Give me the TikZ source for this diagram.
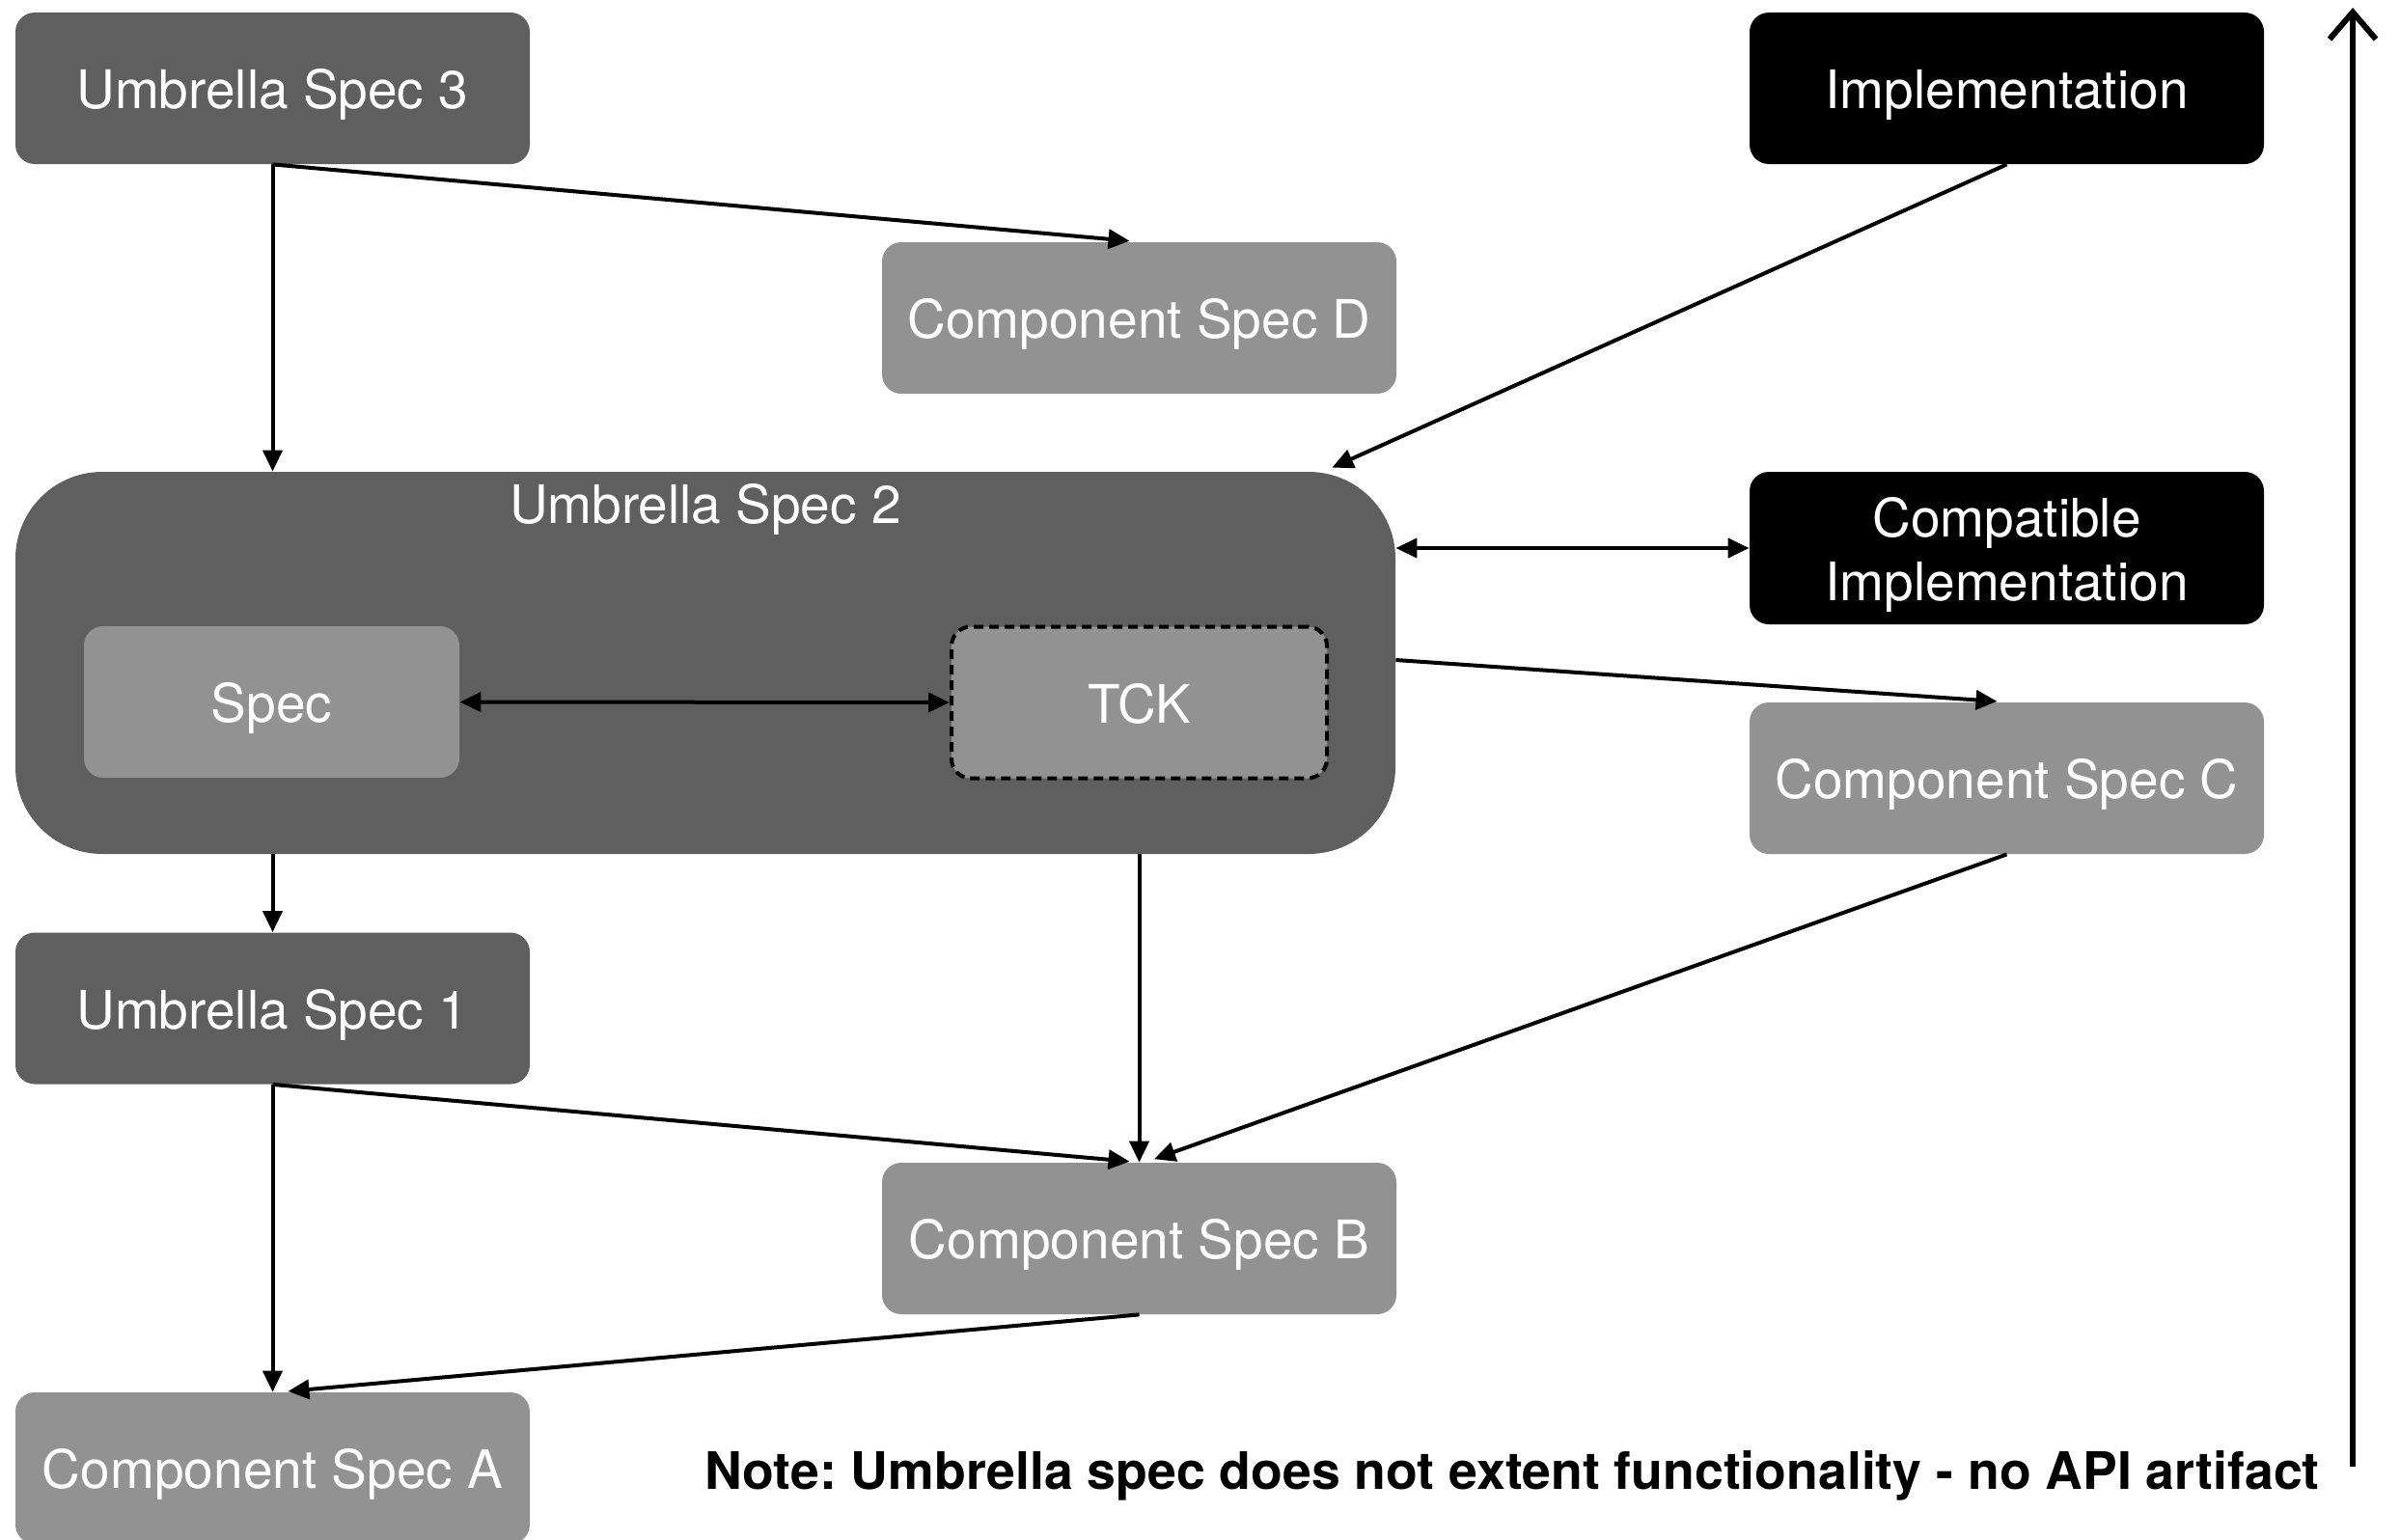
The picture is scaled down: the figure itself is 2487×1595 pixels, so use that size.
\documentclass[tikz,border=0pt]{standalone}
\usepackage{fontspec}
\setmainfont{TeX Gyre Heros}
\usetikzlibrary{arrows.meta,calc}
\definecolor{darkbox}{HTML}{5F5F5F}
\definecolor{lightbox}{HTML}{929292}
\tikzset{
  base/.style={rounded corners=10pt, inner sep=0pt, text=white, font=\fontsize{27.5pt}{33.3pt}\selectfont, align=center, minimum width=266.5pt, minimum height=78.5pt},
  one/.style={text height=21.4pt, text depth=0pt},
  dbox/.style={base, one, fill=darkbox},
  lbox/.style={base, one, fill=lightbox},
  bbox/.style={base, one, fill=black},
  arr/.style={line width=2pt, -{Triangle[length=11pt,width=10pt]}},
  darr/.style={line width=2pt, {Triangle[length=11pt,width=10pt]}-{Triangle[length=11pt,width=10pt]}}
}
\begin{document}
\frenchspacing
\begin{tikzpicture}[x=0.5pt,y=-0.5pt]
\useasboundingbox (0,0) rectangle (2487,1595);
% nodes
\node[dbox] (us3) at (282.5,91.5) {Umbrella Spec 3};
\node[lbox] (D) at (1180.5,329.5) {Component Spec D};
\node[bbox] (impl) at (2079.5,91.5) {Implementation};
\node[dbox, rounded corners=45pt, minimum width=715pt, minimum height=198pt] (us2) at (731,687) {};
\node[one, text=white, inner sep=0pt, font=\fontsize{27.5pt}{33pt}\selectfont] (us2l) at (731,521.5) {Umbrella Spec 2};
\node[lbox, minimum width=194.5pt] (spec) at (281.5,727.5) {Spec};
\node[lbox, minimum width=194.5pt, draw=black, line width=2pt, dash pattern=on 5pt off 3pt] (tck) at (1180.5,728) {TCK};
\node[bbox, minimum height=79pt, text height=54.7pt, text depth=0pt] (compat) at (2079.5,568) {Compatible\\Implementation};
\node[lbox] (C) at (2079.5,806.5) {Component Spec C};
\node[dbox] (us1) at (282.5,1045) {Umbrella Spec 1};
\node[lbox] (B) at (1180.5,1283.5) {Component Spec B};
\node[lbox] (A) at (282.5,1521.5) {Component Spec A};
\node[anchor=base west, inner sep=0pt, font=\bfseries\fontsize{26.8pt}{31pt}\selectfont] (note) at (730,1543) {Note: Umbrella spec does not extent functionality - no API artifact};
% connectors
\draw[arr] (us3.south) -- (us3.south |- us2.north);
\draw[arr, shorten >=5pt] (us3.south) -- (D.north);
\draw[arr] (impl.south) -- ([xshift=-33pt,yshift=2pt]us2.north east);
\draw[darr] (us2.east |- compat.west) -- (compat.west);
\draw[arr, shorten >=5pt] ([yshift=1.5pt]us2.east) -- (C.north);
\draw[darr] (spec.east) -- (tck.west);
\draw[arr] (us1.north |- us2.south) -- (us1.north);
\draw[arr] (B.north |- us2.south) -- (B.north);
\draw[arr, shorten >=5pt] (C.south) -- ([xshift=3pt]B.north);
\draw[arr, shorten >=5pt] (us1.south) -- (B.north);
\draw[arr] (us1.south) -- (A.north);
\draw[arr, shorten >=4pt] (B.south) -- ([xshift=4pt]A.north);
% axis arrow
\coordinate (axb) at (2438,1520);
\coordinate (axt) at (2438,8);
\draw[line width=3pt, -{Straight Barb[length=14pt,width=24pt,line width=3pt]}] (axb) -- (axt);
\end{tikzpicture}
\end{document}
